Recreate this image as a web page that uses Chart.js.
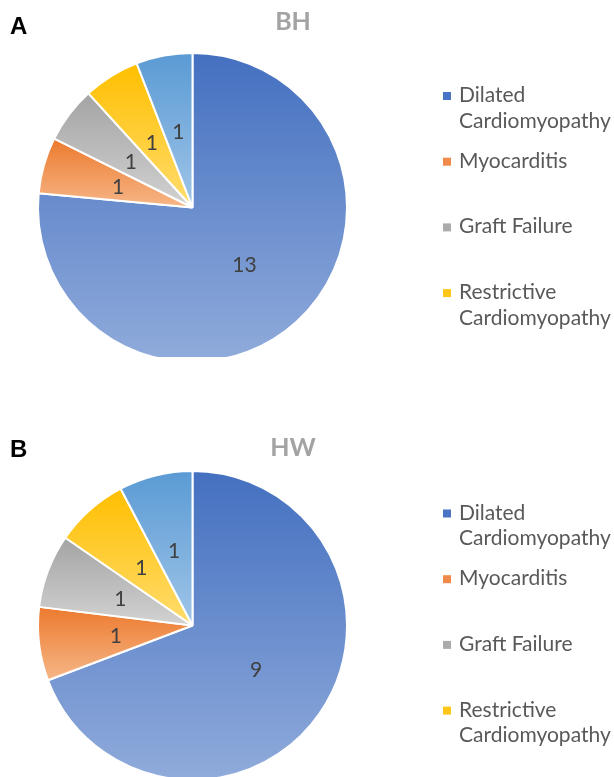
<!DOCTYPE html>
<html>
<head>
<meta charset="utf-8">
<script src="https://cdn.jsdelivr.net/npm/chart.js@4.4.1/dist/chart.umd.min.js"></script>
<style>
  html, body { margin: 0; padding: 0; background: #fff; overflow: hidden; }
  .panel { position: absolute; left: 0; width: 614px; overflow: hidden; }
  #panelA { top: 0; height: 357px; }
  #panelB { top: 400px; height: 377px; }
  canvas { position: absolute; left: 0; top: 0; }
</style>
</head>
<body>
<div class="panel" id="panelA"><canvas id="chartA" width="614" height="420"></canvas></div>
<div class="panel" id="panelB"><canvas id="chartB" width="614" height="400"></canvas></div>
<script>
// Causes of death / transplant indication, counts per group
const categories = ['Dilated Cardiomyopathy', 'Myocarditis', 'Graft Failure', 'Restrictive Cardiomyopathy', 'Other'];
const bhCounts = [13, 1, 1, 1, 1];
const hwCounts = [9, 1, 1, 1, 1];
const legendCount = 4;   // only the first four categories are listed in the key

// slice gradient colours (top -> bottom) and key markers
const topColors    = ['#4470c0', '#ec7a2e', '#a4a4a4', '#ffbf00', '#5a9ad4'];
const bottomColors = ['#90abdb', '#f6b687', '#d2d2d2', '#ffdc6e', '#a0c5e8'];
const markerColors = ['#4a74c6', '#ef8a4a', '#ababab', '#ffc61a'];

const TEXT_FONT = 'Lato';

// vertical gradient across each slice's own bounding box
const gradientFill = {
  id: 'gradientFill',
  beforeDatasetsDraw(chart) {
    const ctx = chart.ctx;
    chart.getDatasetMeta(0).data.forEach((arc, i) => {
      const p = arc.getProps(['x', 'y', 'startAngle', 'endAngle', 'outerRadius'], true);
      const r = p.outerRadius;
      const ys = [p.y, p.y + r * Math.sin(p.startAngle), p.y + r * Math.sin(p.endAngle)];
      const inArc = a => { let t = a; while (t < p.startAngle) t += 2 * Math.PI; return t <= p.endAngle + 1e-9; };
      if (inArc(Math.PI / 2)) ys.push(p.y + r);
      if (inArc(-Math.PI / 2)) ys.push(p.y - r);
      const g = ctx.createLinearGradient(0, Math.min(...ys), 0, Math.max(...ys));
      g.addColorStop(0, topColors[i]);
      g.addColorStop(1, bottomColors[i]);
      arc.options.backgroundColor = g;
    });
  }
};

// value written at the centroid of every slice
const sliceValues = {
  id: 'sliceValues',
  afterDatasetsDraw(chart) {
    const ctx = chart.ctx;
    const values = chart.data.datasets[0].data;
    ctx.save();
    ctx.font = '21px ' + TEXT_FONT;
    ctx.fillStyle = '#404040';
    ctx.textAlign = 'center';
    ctx.textBaseline = 'middle';
    chart.getDatasetMeta(0).data.forEach((arc, i) => {
      const pos = arc.tooltipPosition(true);
      ctx.fillText(String(values[i]), pos.x, pos.y + 1);
    });
    ctx.restore();
  }
};

function wrapWords(ctx, text, maxWidth) {
  const words = text.split(' ');
  const lines = [];
  let line = '';
  words.forEach(w => {
    const test = line ? line + ' ' + w : w;
    if (line && ctx.measureText(test).width > maxWidth) { lines.push(line); line = w; }
    else line = test;
  });
  if (line) lines.push(line);
  return lines;
}

// panel letter, group title and the key on the right
const panelText = {
  id: 'panelText',
  afterDraw(chart) {
    const o = chart.options.plugins.panelText;
    const ctx = chart.ctx;
    ctx.save();
    ctx.textAlign = 'left';
    ctx.textBaseline = 'alphabetic';

    ctx.font = 'bold 24px "Liberation Sans"';
    ctx.fillStyle = '#000';
    ctx.fillText(o.letter, 10, o.letterBase);

    ctx.font = 'bold 25px ' + TEXT_FONT;
    ctx.fillStyle = '#a3a3a3';
    ctx.textAlign = 'center';
    ctx.fillText(o.title, 293, o.titleBase);

    ctx.textAlign = 'left';
    ctx.font = '21px ' + TEXT_FONT;
    for (let i = 0; i < legendCount; i++) {
      const base = o.keyBase + i * 65.7;
      ctx.fillStyle = markerColors[i];
      ctx.fillRect(443, base - 10, 8, 8);
      ctx.fillStyle = '#595959';
      wrapWords(ctx, categories[i], 158).forEach((ln, k) => {
        ctx.fillText(ln, 459, base + k * 25.5);
      });
    }
    ctx.restore();
  }
};

function makePie(canvasId, counts, cfg) {
  return new Chart(document.getElementById(canvasId), {
    type: 'pie',
    data: {
      labels: categories,
      datasets: [{
        data: counts,
        backgroundColor: topColors.slice(),
        borderColor: '#ffffff',
        borderWidth: 2
      }]
    },
    options: {
      responsive: false,
      animation: false,
      devicePixelRatio: 1,
      layout: { padding: cfg.padding },
      plugins: {
        legend: { display: false },
        tooltip: { enabled: false },
        panelText: cfg.text
      }
    },
    plugins: [gradientFill, sliceValues, panelText]
  });
}

function build() {
  makePie('chartA', bhCounts, {
    padding: { left: 37, right: 266, top: 52, bottom: 57 },
    text: { letter: 'A', letterBase: 34, title: 'BH', titleBase: 30, keyBase: 102 }
  });
  makePie('chartB', hwCounts, {
    padding: { left: 37, right: 266, top: 70, bottom: 19 },
    text: { letter: 'B', letterBase: 57, title: 'HW', titleBase: 56, keyBase: 119.5 }
  });
}

Promise.all([
  document.fonts.load('21px Lato'),
  document.fonts.load('bold 25px Lato'),
  document.fonts.load('bold 24px "Liberation Sans"')
]).then(build, build);
</script>
</body>
</html>
